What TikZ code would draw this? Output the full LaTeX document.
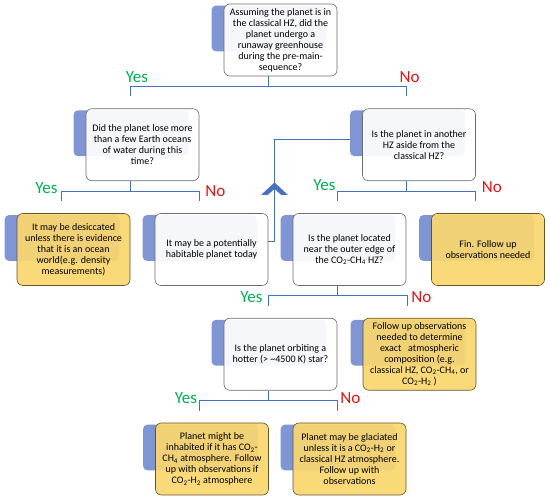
\documentclass[tikz,border=0pt]{standalone}
\usepackage{fontspec}
\setmainfont{Carlito}
\usepackage{tikz}
\usetikzlibrary{backgrounds}
\definecolor{tabblue}{RGB}{128,150,212}
\definecolor{boxyellow}{RGB}{250,214,110}
\definecolor{linkblue}{RGB}{70,112,192}
\definecolor{yesgreen}{RGB}{0,176,80}
\definecolor{nored}{RGB}{232,20,20}

\begin{document}
\begin{tikzpicture}[x=1pt,y=-1pt,node distance=104.75pt,semithick,font=\fontsize{10}{11}\selectfont]
\tikzstyle{ask}=[draw=gray!85!black, fill=white, fill opacity=0.93, text opacity=1, rounded corners=6pt, minimum width=113pt, minimum height=72pt, align=center, inner sep=2pt, text=black]
\tikzstyle{tell}=[ask, fill=boxyellow, draw=black!60!boxyellow]
\tikzstyle{link}=[draw=linkblue, line width=0.9pt]
\tikzstyle{yes}=[text=yesgreen, font=\fontsize{17}{17}\selectfont, inner sep=0pt]
\tikzstyle{no}=[text=nored, font=\fontsize{17}{17}\selectfont, inner sep=0pt]
\useasboundingbox (0,0) rectangle (550,502);
\node[ask] (top) at (280.5,40) {Assuming the planet is in\\the classical HZ, did the\\planet undergo a\\runaway greenhouse\\during the pre-main-\\sequence?};
\node[ask][below of=top, xshift=-138pt](lose){Did the planet lose more\\than a few Earth oceans\\of water during this\\time?};
\node[ask][below of=top, xshift=138.5pt](other){Is the planet in another\\HZ aside from the\\classical HZ?};
\node[tell][below of=lose, xshift=-69pt](dry){It may be desiccated\\unless there is evidence\\that it is an ocean\\world(e.g. density\\measurements)};
\node[ask][below of=lose, xshift=69pt](hab){It may be a potentially\\habitable planet today};
\node[ask][below of=other, xshift=-69.5pt](edge){Is the planet located\\near the outer edge of\\the CO\textsubscript{2}-CH\textsubscript{4} HZ?};
\node[tell][below of=other, xshift=69pt](fin){Fin. Follow up\\observations needed};
\node[ask][below of=edge, xshift=-69pt](hot){Is the planet orbiting a\\hotter (> \textasciitilde4500 K) star?};
\node[tell][below of=edge, xshift=70pt](obs){Follow up observations\\needed to determine\\exact\ \ \ atmospheric\\composition (e.g.\\classical HZ, CO\textsubscript{2}-CH\textsubscript{4}, or\\CO\textsubscript{2}-H\textsubscript{2} )};
\node[tell][below of=hot, xshift=-68.5pt](inhab){Planet might be\\inhabited if it has CO\textsubscript{2}-\\CH\textsubscript{4} atmosphere. Follow\\up with observations if\\CO\textsubscript{2}-H\textsubscript{2} atmosphere};
\node[tell][below of=hot, xshift=69pt](glac){Planet may be glaciated\\unless it is a CO\textsubscript{2}-H\textsubscript{2} or\\classical HZ atmosphere.\\Follow up with\\observations};
\begin{scope}[on background layer]
\foreach \n in {top,lose,other,dry,hab,edge,fin,hot,obs,inhab,glac}
  \fill[tabblue, rounded corners=4pt] ([xshift=-12pt,yshift=-2pt]\n.north west) rectangle ([xshift=-11pt,yshift=25pt]\n.south east);
\end{scope}
\draw[link] ([xshift=-12.5pt]top.south) -- ++(0,10) -| ([xshift=-12.5pt,yshift=12pt]lose.north) node[yes, pos=0.5, anchor=base, xshift=7pt, yshift=4pt]{Yes};
\draw[link] ([xshift=-12.5pt]top.south) ++(0,10) -| ([xshift=-12.5pt,yshift=12pt]other.north) node[no, pos=0.5, anchor=base, xshift=3pt, yshift=4pt]{No};
\draw[link] ([xshift=-12.5pt]lose.south) -- ++(0,10) -| ([xshift=-12.5pt,yshift=12pt]dry.north) node[yes, pos=0.5, anchor=base east, xshift=-3pt, yshift=-2pt]{Yes};
\draw[link] ([xshift=-12.5pt]lose.south) ++(0,10) -| ([xshift=-12.5pt,yshift=12pt]hab.north) node[no, pos=0.5, anchor=base west, xshift=6pt, yshift=-5pt]{No};
\draw[link] ([xshift=-12.5pt]other.south) -- ++(0,10) -| ([xshift=-12.5pt,yshift=12pt]edge.north) node[yes, pos=0.5, anchor=base east, xshift=-1pt, yshift=1pt]{Yes};
\draw[link] ([xshift=-12.5pt]other.south) ++(0,10) -| ([xshift=-12.5pt,yshift=12pt]fin.north) node[no, pos=0.5, anchor=base west, xshift=6pt, yshift=-1pt]{No};
\draw[link] ([xshift=-12.5pt]edge.south) -- ++(0,10) -| ([xshift=-12.5pt,yshift=12pt]hot.north) node[yes, pos=0.5, anchor=base east, xshift=-5pt, yshift=-7pt]{Yes};
\draw[link] ([xshift=-12.5pt]edge.south) ++(0,10) -| ([xshift=-12.5pt,yshift=12pt]obs.north) node[no, pos=0.5, anchor=base west, xshift=4pt, yshift=-7pt]{No};
\draw[link] ([xshift=-12.5pt]hot.south) -- ++(0,10) -| ([xshift=-12.5pt,yshift=12pt]inhab.north) node[yes, pos=0.5, anchor=base east, xshift=-2pt, yshift=-3pt]{Yes};
\draw[link] ([xshift=-12.5pt]hot.south) ++(0,10) -| ([xshift=-12.5pt,yshift=12pt]glac.north) node[no, pos=0.5, anchor=base west, xshift=3pt, yshift=-3pt]{No};
\draw[link] ([yshift=8pt]hab.east) -- ++(6,0) |- ([xshift=-12pt,yshift=5pt]other.west);
\fill[linkblue] (274.5,182.5) -- (288,195) -- (281.5,195) -- (274.5,189) -- (267.5,195) -- (261,195) -- cycle;
\end{tikzpicture}
\end{document}
